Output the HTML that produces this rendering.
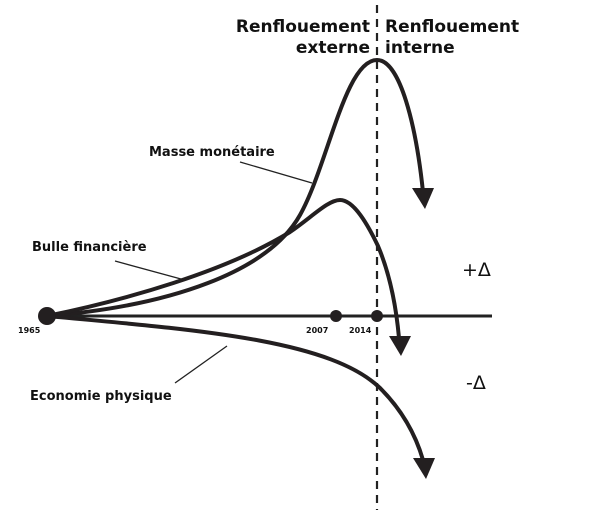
<!DOCTYPE html>
<html><head><meta charset="utf-8"><style>
html,body{margin:0;padding:0;background:#fff;}
svg{display:block;}
text{font-family:"DejaVu Sans","Liberation Sans",sans-serif;fill:#111;}
</style></head><body>
<svg width="602" height="510" viewBox="0 0 602 510" xmlns="http://www.w3.org/2000/svg">
<line x1="377" y1="5" x2="377" y2="510" stroke="#222" stroke-width="2.2" stroke-dasharray="8,6"/>
<line x1="47" y1="316" x2="492" y2="316" stroke="#222" stroke-width="3"/>
<g fill="none" stroke="#231f20" stroke-width="4" stroke-linecap="round">
<path d="M47,316 C170,306 268,272 300,215 C328,165 345,60 377,60 C400,60 416,125 423,192"/>
<path d="M47,316 C125,300 225,272 290,232 C312,217 328,200 340,200 C354,200 368,225 378,246 C389,272 396,305 399,338"/>
<path d="M47,316 C200,330 330,340 380,388 C403,411 416,436 423,460"/>
</g>
<g fill="#231f20">
<polygon points="412,188 434,188 425,209"/>
<polygon points="389,336 411,336 401,356"/>
<polygon points="413,458 435,458 426,479"/>
<circle cx="47" cy="316" r="9"/>
<circle cx="336" cy="316" r="6"/>
<circle cx="377" cy="316" r="6"/>
</g>
<g stroke="#222" stroke-width="1.3">
<line x1="240" y1="162" x2="312" y2="183"/>
<line x1="115" y1="261" x2="181" y2="279"/>
<line x1="175" y1="383" x2="227" y2="346"/>
</g>
<g font-weight="bold">
<text x="370" y="32" font-size="17" text-anchor="end">Renflouement</text>
<text x="370" y="53" font-size="17" text-anchor="end">externe</text>
<text x="385" y="32" font-size="17">Renflouement</text>
<text x="385" y="53" font-size="17">interne</text>
<text x="149" y="156" font-size="13">Masse monétaire</text>
<text x="32" y="251" font-size="13">Bulle financière</text>
<text x="30" y="400" font-size="13">Economie physique</text>
<text x="18" y="333" font-size="8">1965</text>
<text x="306" y="333" font-size="8">2007</text>
<text x="349" y="333" font-size="8">2014</text>
</g>
<text x="462" y="276" font-size="19">+Δ</text>
<text x="466" y="389" font-size="19">-Δ</text>
</svg>
</body></html>
